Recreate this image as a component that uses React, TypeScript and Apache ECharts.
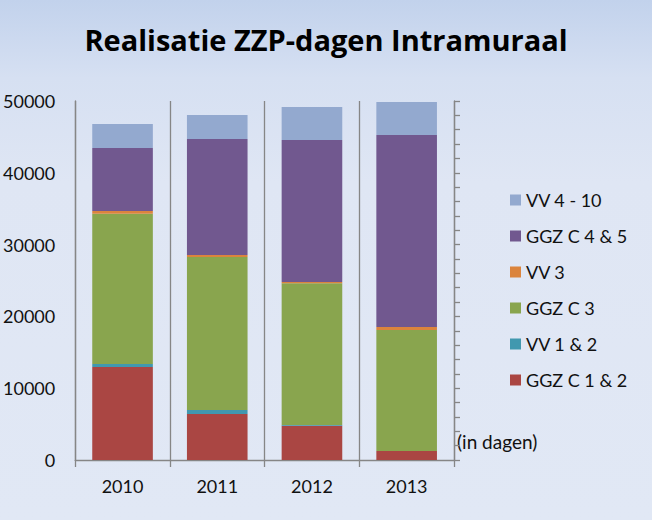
import React, { useEffect, useRef } from "react";
import * as echarts from "echarts";

const years = ["2010", "2011", "2012", "2013"];
const ggzC12 = [12950, 6400, 4780, 1250];
const vv12 = [420, 560, 90, 0];
const ggzC3 = [20930, 21310, 19740, 16850];
const vv3 = [380, 280, 180, 420];
const ggzC45 = [8770, 16160, 19780, 26740];
const vv410 = [3350, 3340, 4590, 4600];
const yTicks = [0, 10000, 20000, 30000, 40000, 50000];

const FONT = "Lato, 'Open Sans', sans-serif";

export default function App() {
  const ref = useRef<HTMLDivElement>(null);
  useEffect(() => {
    document.body.style.margin = "0";
    const chart = echarts.init(ref.current!, null, { renderer: "svg" });
    const seriesDefs = [
      { name: "GGZ C 1 & 2", data: ggzC12, color: "#AA4643" },
      { name: "VV 1 & 2", data: vv12, color: "#4198AF" },
      { name: "GGZ C 3", data: ggzC3, color: "#89A54E" },
      { name: "VV 3", data: vv3, color: "#DB843D" },
      { name: "GGZ C 4 & 5", data: ggzC45, color: "#71588F" },
      { name: "VV 4 - 10", data: vv410, color: "#93A9CF" },
    ];
    chart.setOption({
      animation: false,
      backgroundColor: "transparent",
      textStyle: { fontFamily: FONT },
      title: {
        text: "Realisatie ZZP-dagen Intramuraal",
        left: "center",
        top: 20,
        textStyle: { fontFamily: "'Open Sans', sans-serif", fontSize: 29, fontWeight: "bold", color: "#000" },
      },
      legend: {
        orient: "vertical",
        left: 510,
        top: 191,
        padding: 0,
        itemWidth: 11,
        itemHeight: 11,
        itemGap: 18,
        icon: "rect",
        data: ["VV 4 - 10", "GGZ C 4 & 5", "VV 3", "GGZ C 3", "VV 1 & 2", "GGZ C 1 & 2"],
        textStyle: { fontFamily: FONT, fontSize: 18, color: "#111" },
      },
      grid: { left: 75, right: 198, top: 101, bottom: 60, containLabel: false },
      xAxis: {
        type: "category",
        data: years,
        axisLine: { show: true, lineStyle: { color: "#868686", width: 1.3 } },
        axisTick: { show: true, length: 7, lineStyle: { color: "#868686", width: 1.3 } },
        splitLine: { show: true, lineStyle: { color: "#868686", width: 1.3 } },
        axisLabel: { fontFamily: FONT, fontSize: 18, color: "#111", margin: 17 },
      },
      yAxis: [
        {
          type: "value",
          min: yTicks[0],
          max: yTicks[yTicks.length - 1],
          interval: 10000,
          axisLine: { show: true, lineStyle: { color: "#868686", width: 1.3 } },
          axisTick: { show: false },
          splitLine: { show: false },
          axisLabel: {
            fontFamily: FONT,
            fontSize: 18,
            color: "#111",
            margin: 20,
            formatter: (v: number) => String(v),
          },
        },
        {
          type: "value",
          position: "right",
          min: 0,
          max: 50000,
          interval: 2000,
          axisLine: { show: true, lineStyle: { color: "#868686", width: 1.3 } },
          axisTick: { show: true, length: 6, lineStyle: { color: "#868686", width: 1.3 } },
          splitLine: { show: false },
          axisLabel: { show: false },
        },
      ],
      graphic: [
        {
          type: "text",
          left: 457,
          top: 432,
          style: { text: "(in dagen)", fontFamily: FONT, fontSize: 19, fill: "#111" },
        },
      ],
      series: seriesDefs.map((s) => ({
        type: "bar",
        name: s.name,
        stack: "total",
        data: s.data,
        barCategoryGap: "36%",
        itemStyle: { color: s.color },
        emphasis: { disabled: true },
      })),
    });
    return () => chart.dispose();
  }, []);
  return (
    <div
      ref={ref}
      style={{
        width: 652,
        height: 520,
        background: "linear-gradient(to bottom, #C2D2EC 0%, #D6E0F2 15%, #DFE6F4 35%, #E1E8F5 100%)",
      }}
    />
  );
}
